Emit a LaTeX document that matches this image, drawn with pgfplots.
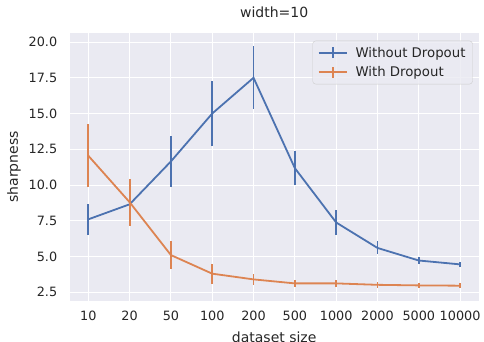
\documentclass[border=0pt]{standalone}
\usepackage{pgfplots}
\pgfplotsset{compat=1.18}
\usepackage{fontspec}
\setmainfont{DejaVu Sans}
\definecolor{sbblue}{HTML}{4C72B0}
\definecolor{sborange}{HTML}{DD8452}
\definecolor{sbbg}{HTML}{EAEAF2}
\begin{document}
\begin{tikzpicture}
\begin{axis}[
  scale only axis,
  width=409pt, height=267.4pt,
  at={(0,0)}, anchor=south west,
  xmin=-0.45, xmax=9.45,
  ymin=1.91, ymax=20.61,
  xtick={0,1,2,3,4,5,6,7,8,9},
  xticklabels={10,20,50,100,200,500,1000,2000,5000,10000},
  ytick={2.5,5,7.5,10,12.5,15,17.5,20},
  /pgf/number format/assume math mode=true,
  axis background/.style={fill=sbbg},
  axis line style={draw=none},
  major tick length=0pt,
  grid=major,
  major grid style={white, line width=1pt},
  tick label style={font=\fontsize{12.8}{15}\selectfont, text=black!85},
  xticklabel style={yshift=-7pt},
  yticklabel style={xshift=-9pt, /pgf/number format/.cd, fixed, fixed zerofill, precision=1},
  label style={font=\fontsize{14}{17}\selectfont, text=black!85},
  xlabel style={inner sep=0pt, yshift=-7.5pt},
  ylabel style={yshift=1pt},
  title style={font=\fontsize{14}{17}\selectfont, text=black!85, yshift=6pt},
  xlabel={dataset size},
  ylabel={sharpness},
  title={width=10},
  legend style={at={(1,1)}, xshift=-6pt, yshift=-7.4pt, anchor=north east,
    fill=sbbg, fill opacity=0.8, text opacity=1, draw=black!20, rounded corners=3pt,
    font=\fontsize{13.3}{15}\selectfont, text=black!85, row sep=4pt, inner xsep=5pt, inner ysep=4pt,
    /tikz/every odd column/.append style={column sep=6pt}},
  legend cell align=left,
  legend image code/.code={
    \draw[#1, line width=1.8pt] (0pt,0pt) -- (28pt,0pt);
    \draw[#1, line width=1.8pt] (14pt,-5.5pt) -- (14pt,5.5pt);
  },
]
\addplot+[sbblue, line width=1.8pt, mark=none,
  error bars/.cd, y dir=both, y explicit, error mark=none,
  error bar style={line width=1.8pt, sbblue}]
  table[x=x, y=y, y error=e] {
x y e
0 7.6 1.1
1 8.65 0.35
2 11.65 1.8
3 15.0 2.3
4 17.5 2.2
5 11.18 1.18
6 7.38 0.85
7 5.6 0.45
8 4.72 0.22
9 4.45 0.2
};
\addlegendentry{Without Dropout}
\addplot+[sborange, line width=1.8pt, mark=none,
  error bars/.cd, y dir=both, y explicit, error mark=none,
  error bar style={line width=1.8pt, sborange}]
  table[x=x, y=y, y error=e] {
x y e
0 12.05 2.2
1 8.8 1.65
2 5.1 1.0
3 3.8 0.7
4 3.4 0.4
5 3.12 0.25
6 3.12 0.25
7 3.02 0.2
8 2.98 0.18
9 2.96 0.18
};
\addlegendentry{With Dropout}
\end{axis}
\pgfresetboundingbox
\path[use as bounding box] (-69.7pt,-41.3pt) rectangle (414.3pt,300.7pt);
\end{tikzpicture}
\end{document}
